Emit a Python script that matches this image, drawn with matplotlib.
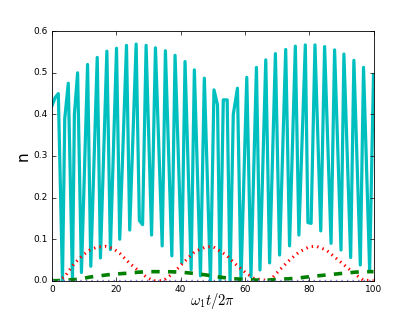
import matplotlib
matplotlib.use("Agg")
import matplotlib.pyplot as plt

# cyan: turning points of the fast oscillation
t_c = [0.0, 1.0, 2.0, 3.3, 4.0, 5.1, 6.4, 7.0, 8.0, 9.2, 11.1, 12.1, 14.1, 15.1,
       17.1, 18.2, 20.1, 21.1, 23.2, 24.2, 26.2, 27.2, 28.2, 29.3, 31.0, 32.2,
       34.3, 35.3, 37.3, 38.3, 40.4, 41.4, 43.3, 44.3, 46.2, 47.4, 49.3, 50.4,
       51.5, 52.3, 53.3, 54.5, 55.4, 56.4, 57.7, 58.8, 60.6, 61.9, 63.6, 64.7,
       66.5, 67.7, 69.5, 70.8, 72.7, 73.9, 75.7, 76.8, 78.8, 79.6, 80.6, 81.8,
       83.6, 84.8, 86.8, 87.9, 89.9, 90.8, 92.9, 93.9, 95.9, 96.9, 98.8, 100.0]
n_c = [0.42, 0.44, 0.45, 0.0, 0.39, 0.475, 0.0, 0.40, 0.50, 0.02, 0.52, 0.035, 0.537, 0.055,
       0.552, 0.075, 0.559, 0.10, 0.566, 0.122, 0.569, 0.145, 0.135, 0.566, 0.11, 0.56,
       0.084, 0.553, 0.06, 0.542, 0.043, 0.527, 0.027, 0.507, 0.012, 0.487, 0.0, 0.459,
       0.423, 0.0, 0.435, 0.435, 0.0, 0.40, 0.463, 0.0, 0.489, 0.01, 0.513, 0.026,
       0.531, 0.043, 0.546, 0.062, 0.556, 0.084, 0.564, 0.11, 0.567, 0.14, 0.138, 0.567,
       0.12, 0.563, 0.09, 0.555, 0.074, 0.545, 0.056, 0.53, 0.038, 0.513, 0.026, 0.495]

# red dotted
t_r = [0, 2, 4, 7, 9.7, 11.8, 14, 16.5, 19, 21.1, 24.2, 27.3, 29.4, 31.5, 34.6,
       37.7, 40.8, 44.4, 48, 50.1, 54.2, 57.4, 60.5, 63, 67.7, 70.8, 73.9, 77,
       80.1, 82.2, 85.3, 88.4, 91.5, 94.6, 96.7, 100]
n_r = [0, 0, 0.01, 0.042, 0.062, 0.074, 0.081, 0.083, 0.078, 0.066, 0.042, 0.022, 0.009, 0.0, 0.0,
       0.018, 0.043, 0.07, 0.082, 0.082, 0.062, 0.038, 0.018, 0.005, 0.0, 0.026, 0.05, 0.07,
       0.082, 0.083, 0.074, 0.054, 0.034, 0.014, 0.002, 0.0]

# green dashed
t_g = [0, 4, 8.7, 11.8, 14.9, 19, 23.2, 27.3, 31.5, 35.6, 39.8, 43.9, 48, 51.1,
       56.3, 60.5, 65.5, 71.8, 76, 80.1, 85.3, 90.5, 94.6, 98.8, 100]
n_g = [0, 0.001, 0.004, 0.009, 0.012, 0.016, 0.018, 0.021, 0.022, 0.022, 0.021, 0.018, 0.014, 0.01,
       0.005, 0.003, 0.001, 0.004, 0.006, 0.01, 0.014, 0.018, 0.021, 0.022, 0.022]

# purple dotted, hugging zero
t_p = [0, 50, 100]
n_p = [0.001, 0.001, 0.001]

plt.style.use("classic")
fig, ax = plt.subplots(figsize=(4.15, 3.12), dpi=100)
fig.subplots_adjust(left=0.125, right=0.90, bottom=0.10, top=0.90)

ax.plot(t_c, n_c, color="c", lw=2.3)
ax.plot(t_r, n_r, color="r", ls=":", lw=2.2)
ax.plot(t_g, n_g, color="g", ls="--", lw=2.6)
ax.plot(t_p, n_p, color="#7a7adc", ls=":", lw=1.0)

ax.set_xlim(0, 100)
ax.set_ylim(0, 0.6)
ax.set_xticks([0, 20, 40, 60, 80, 100])
ax.set_yticks([0.0, 0.1, 0.2, 0.3, 0.4, 0.5, 0.6])
ax.tick_params(labelsize=6.5, length=3, width=0.5, pad=3)
for s in ax.spines.values():
    s.set_linewidth(0.6)
ax.set_xlabel(r"$\omega_1 t/2\pi$", fontsize=10.5)
ax.xaxis.set_label_coords(0.5, -0.04)
ax.set_ylabel("n", fontsize=11, labelpad=2)

fig.savefig("out.png", dpi=100, facecolor="white")
